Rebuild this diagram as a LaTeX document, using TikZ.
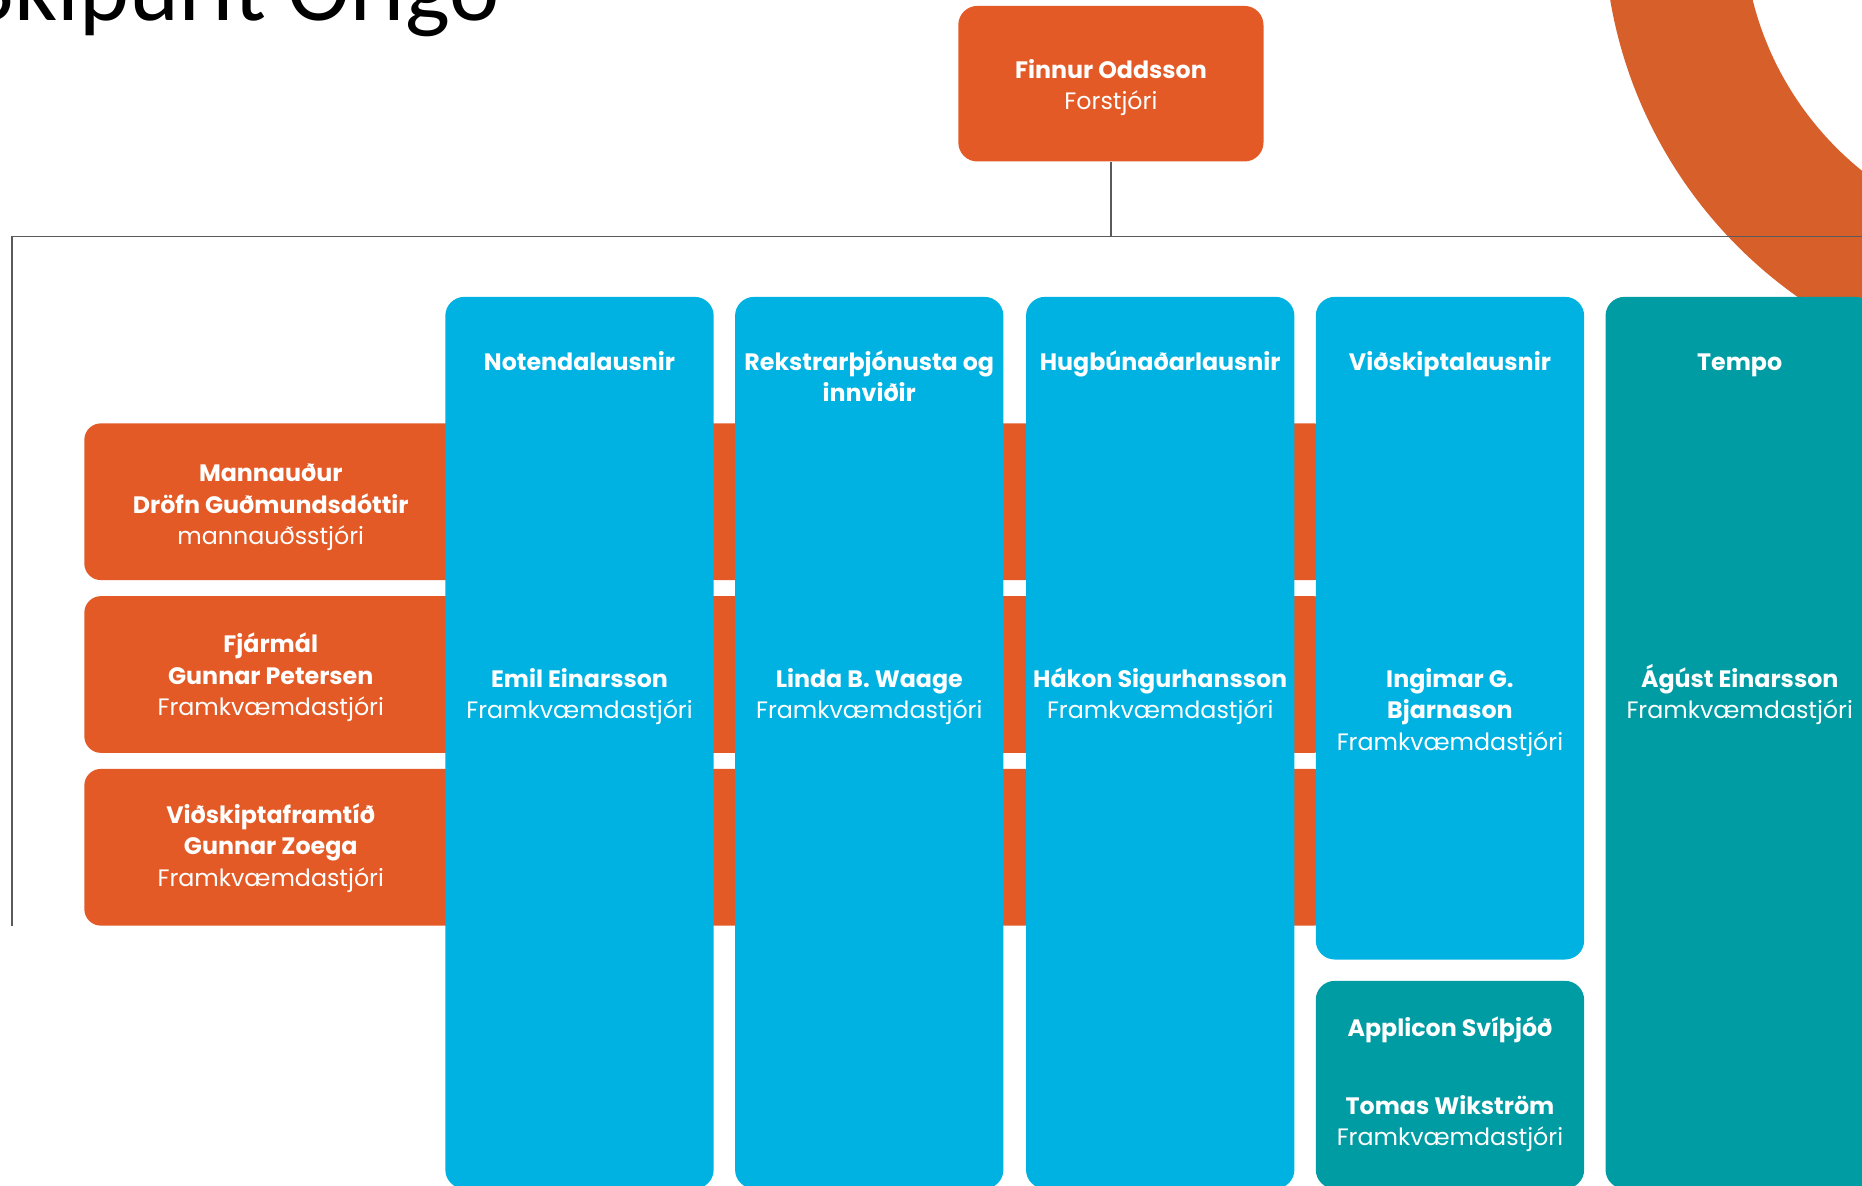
\documentclass[tikz,border=0pt]{standalone}
\usepackage{fontspec}
\setmainfont{Poppins}
\newfontfamily\titlefont{Carlito}
\usetikzlibrary{positioning}

\definecolor{origoorange}{HTML}{E35A27}
\definecolor{ringorange}{HTML}{D65F2A}
\definecolor{origoblue}{HTML}{00B2E2}
\definecolor{origoteal}{HTML}{009CA4}
\definecolor{linegray}{HTML}{5A5A5A}

\def\colwidth{113pt}
\def\textsize{\fontsize{10pt}{13.25pt}\selectfont}
\def\textstrut{\rule{0pt}{10.5pt}}

\begin{document}
\begin{tikzpicture}[x=0.5pt,y=-0.5pt]
	\tikzstyle{box}=[rounded corners=8pt,inner sep=0pt,minimum width=\colwidth]
	\tikzstyle{ceo box}=[box,fill=origoorange,minimum width=128.5pt,minimum height=65.5pt]
	\tikzstyle{staff box}=[box,fill=origoorange,rounded corners=7pt,minimum width=524.5pt,minimum height=66pt]
	\tikzstyle{unit box}=[box,fill=origoblue]
	\tikzstyle{sub box}=[box,fill=origoteal]
	\tikzstyle{annot}=[inner sep=0pt,anchor=north,align=center,text=white,font=\textsize]
	\tikzstyle{head}=[annot,font=\textsize\bfseries]
	\tikzstyle{bus}=[draw=linegray,line width=0.6pt]

	\useasboundingbox (0,0) rectangle (1568,998.7);
	\clip (0,0) rectangle (1568,998.7);

	% Title and the ring of the logo
	\node[anchor=base west,inner sep=0pt,font=\titlefont\fontsize{40pt}{48pt}\selectfont] (title) at (-25,17) {Skipurit Origo};
	\fill[ringorange,even odd rule] (1736,-65) circle[radius=192.75pt] (1736,-65) circle[radius=134pt];

	% Draw the CEO and the bus line below it
	\node[ceo box] (ceo) at (935.5,70.5) {};
	\coordinate (bus) at (935.5,199);
	\coordinate (bus west) at (10,199);
	\coordinate (bus east) at (1568,199);
	\coordinate (bus end) at (10,780);
	\path[bus] (ceo) -- (bus);
	\path[bus] (bus end) -- (bus west) -- (bus east);

	% Draw the staff rows, they run on behind the units
	\foreach \name / \y in {1/422.5,2/568,3/713.5}
	\node[staff box] (S-\name) at (595.5,\y) {};

	% Draw the business units
	\foreach \name / \x in {1/488,2/732,3/977}
	\node[unit box,minimum height=375.5pt] (U-\name) at (\x,625.5) {};
	\node[unit box,minimum height=279pt] (U-4) at (1221,529) {};
	\node[sub box,minimum height=87.5pt] (U-5) at (1221,913.5) {};
	\node[sub box,minimum height=375.5pt] (U-6) at (1465,625.5) {};

	% Annotate the CEO and the staff rows
	\node[annot] (T-0) at (935.5,44.3) {\textstrut\textbf{Finnur Oddsson}\\Forstjóri};
	\foreach \name / \y / \txt in {1/384.2/{\textbf{Mannauður}\\\textbf{Dröfn Guðmundsdóttir}\\mannauðsstjóri},
		2/528.3/{\textbf{Fjármál}\\\textbf{Gunnar Petersen}\\Framkvæmdastjóri},
		3/671.8/{\textbf{Viðskiptaframtíð}\\\textbf{Gunnar Zoega}\\Framkvæmdastjóri}}
	\node[annot] (T-\name) at (228,\y) {\textstrut\txt};

	% Annotate the units, heads first
	\foreach \name / \x / \txt in {1/488/Notendalausnir,2/732/{Rekstrarþjónusta og\\innviðir},
		3/977/Hugbúnaðarlausnir,4/1221/Viðskiptalausnir,6/1465/Tempo}
	\node[head] (H-\name) at (\x,290.4) {\textstrut\txt};
	\node[head] (H-5) at (1221,851.8) {\textstrut Applicon Svíþjóð};

	\foreach \name / \x / \txt in {1/488/{\textbf{Emil Einarsson}\\Framkvæmdastjóri},
		2/732/{\textbf{Linda B. Waage}\\Framkvæmdastjóri},
		3/977/{\textbf{Hákon Sigurhansson}\\Framkvæmdastjóri},
		4/1221/{\textbf{Ingimar G.}\\\textbf{Bjarnason}\\Framkvæmdastjóri},
		6/1465/{\textbf{Ágúst Einarsson}\\Framkvæmdastjóri}}
	\node[annot] (N-\name) at (\x,557.3) {\textstrut\txt};
	\node[annot] (N-5) at (1221,916.8) {\textstrut\textbf{Tomas Wikström}\\Framkvæmdastjóri};
\end{tikzpicture}
\end{document}
